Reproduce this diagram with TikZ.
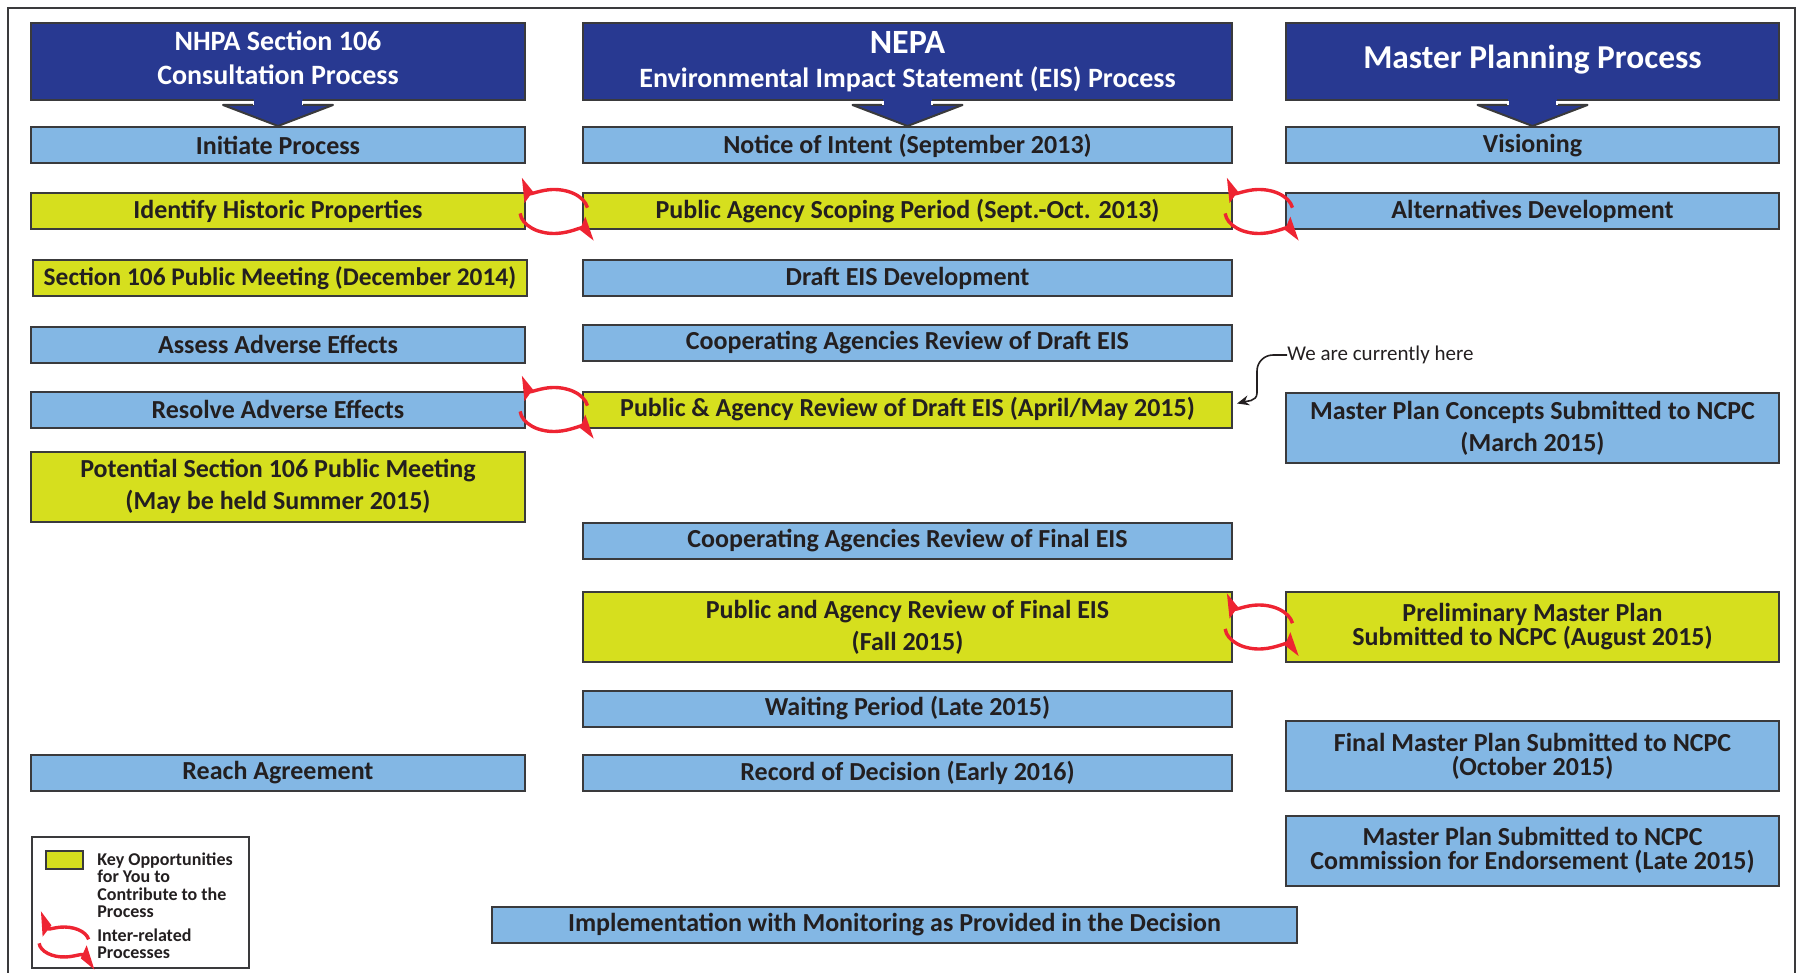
\documentclass[tikz,border=0pt]{standalone}
\usepackage{fontspec}
\setmainfont{Carlito}
\usetikzlibrary{arrows.meta,calc}

\definecolor{hdrblue}{RGB}{40,57,145}
\definecolor{stepblue}{RGB}{131,183,228}
\definecolor{keyyellow}{RGB}{214,223,30}
\definecolor{loopred}{RGB}{238,36,50}
\definecolor{edgegray}{RGB}{58,58,60}
\definecolor{inkgray}{RGB}{35,31,32}

\tikzset{
  box/.style={draw=edgegray, line width=1pt, text=inkgray, align=center, inner sep=0pt,
    minimum height=18pt, font=\bfseries\fontsize{13}{16}\selectfont},
  blue box/.style={box, fill=stepblue},
  key box/.style={box, fill=keyyellow},
  hdr/.style={draw=edgegray, line width=1pt, fill=hdrblue, text=white, align=center,
    inner sep=0pt, minimum height=38.5pt, font=\bfseries\fontsize{14}{17}\selectfont},
  lft/.style={minimum width=247pt},
  mid/.style={minimum width=324.5pt},
  rgt/.style={minimum width=246.5pt},
  tall/.style={minimum height=35pt},
  tight/.style={font=\bfseries\fontsize{13}{12}\selectfont},
  loopline/.style={loopred, line width=1.7pt, -{Stealth[harpoon,swap,length=8.5pt,width=15pt,inset=2pt]}},
}

% block arrow under a column heading
\newcommand\hdrarrow[1]{%
  \fill[hdrblue] ($(#1.south)+(-24.5,-4)$) -- ++(0,8) -- ++(-30.5,0) -- ++(55,21)
    -- ++(55,-21) -- ++(-30.5,0) -- ++(0,-8) -- cycle;
  \draw[edgegray, line width=1pt, line join=round] ($(#1.south)+(-24.5,4)$) -- ++(-30.5,0)
    -- ++(55,21) -- ++(55,-21) -- ++(-30.5,0);
  \draw[white, line width=0.8pt] ($(#1.south)+(-24.5,0.5)$) -- ++(0,3.5)
    ($(#1.south)+(24.5,0.5)$) -- ++(0,3.5);
}

% pair of circling arrows: centre, x radius, y radius
\newcommand\loopsym[3]{%
  \draw[loopline] #1 ++(10:#2 and #3) arc[start angle=10, end angle=155, x radius=#2, y radius=#3];
  \draw[loopline] #1 ++(185:#2 and #3) arc[start angle=185, end angle=345, x radius=#2, y radius=#3];
}

\begin{document}
\begin{tikzpicture}[x=0.5pt, y=-0.5pt]
	\useasboundingbox (0,0) rectangle (1797,973);
	\draw[edgegray, line width=1pt] (8,990) |- (1795,8) -- (1795,990);

	% headings
	\node[hdr, lft, text depth=3.5pt] (nhpa) at (278,61.5) {NHPA Section 106\\Consultation Process};
	\node[hdr, mid] (nepa) at (907.5,61.5) {{\fontsize{17}{17}\selectfont NEPA}\\Environmental Impact Statement (EIS) Process};
	\node[hdr, rgt, font=\bfseries\fontsize{16.7}{20}\selectfont] (master) at (1532.5,61.5) {\raisebox{4.5pt}{Master Planning Process}};

	% NHPA column
	\node[blue box, lft] (initiate) at (278,145.5) {Initiate Process};
	\node[key box, lft] (idhist) at (278,211.5) {Identify Historic Properties};
	\node[key box, lft, font=\bfseries\fontsize{12.7}{16}\selectfont] (meeting) at (280,278) {Section 106 Public Meeting (December 2014)};
	\node[blue box, lft] (assess) at (278,344.5) {Assess Adverse Effects};
	\node[blue box, lft] (resolve) at (278,409.5) {Resolve Adverse Effects};
	\node[key box, lft, tall] (potential) at (278,486.5) {Potential Section 106 Public Meeting\\(May be held Summer 2015)};
	\node[blue box, lft] (agree) at (278,773) {Reach Agreement};

	% NEPA column
	\node[blue box, mid] (intent) at (907.5,145.5) {Notice of Intent (September 2013)};
	\node[key box, mid] (scoping) at (907.5,211.5) {Public Agency Scoping Period (Sept.-Oct. 2013)};
	\node[blue box, mid] (drafteis) at (907.5,278) {Draft EIS Development};
	\node[blue box, mid] (coopdraft) at (907.5,342.5) {Cooperating Agencies Review of Draft EIS};
	\node[key box, mid] (draftrev) at (907.5,409.5) {Public \& Agency Review of Draft EIS (April/May 2015)};
	\node[blue box, mid] (coopfinal) at (907.5,541) {Cooperating Agencies Review of Final EIS};
	\node[key box, mid, tall] (finalrev) at (907.5,627) {Public and Agency Review of Final EIS\\(Fall 2015)};
	\node[blue box, mid] (waiting) at (907.5,708.5) {Waiting Period (Late 2015)};
	\node[blue box, mid] (decision) at (907.5,772.5) {Record of Decision (Early 2016)};

	% master plan column
	\node[blue box, rgt] (vision) at (1532.5,145.5) {Visioning};
	\node[blue box, rgt] (alts) at (1532.5,211.5) {Alternatives Development};
	\node[blue box, rgt, tall] (concepts) at (1532.5,428) {Master Plan Concepts Submitted to NCPC\\(March 2015)};
	\node[key box, rgt, tall, tight] (prelim) at (1532.5,627) {Preliminary Master Plan\\Submitted to NCPC (August 2015)};
	\node[blue box, rgt, tall, tight] (finalplan) at (1532.5,756) {Final Master Plan Submitted to NCPC\\(October 2015)};
	\node[blue box, rgt, tall, tight] (endorse) at (1532.5,850.5) {Master Plan Submitted to NCPC\\Commission for Endorsement (Late 2015)};

	\node[blue box, minimum width=402.5pt] (impl) at (894.5,924.5) {Implementation with Monitoring as Provided in the Decision};

	\hdrarrow{nhpa}
	\hdrarrow{nepa}
	\hdrarrow{master}

	% links between the processes
	\loopsym{($(idhist.east)!0.5!(scoping.west)$)}{17pt}{11pt}
	\loopsym{($(scoping.east)!0.5!(alts.west)$)}{17pt}{11pt}
	\loopsym{($(resolve.east)!0.5!(draftrev.west)$)}{17pt}{11pt}
	\loopsym{($(finalrev.east)!0.5!(prelim.west)$)}{17pt}{11pt}

	% current status
	\node[anchor=west, inner sep=0pt, text=inkgray, font=\fontsize{10.5}{12}\selectfont] (here) at (1287,355) {We are currently here};
	\draw[inkgray, line width=0.8pt, -{Stealth[length=6pt,width=5pt]}] (here.west) -- ++(-14,0)
		to[out=180,in=90] ++(-16,16) -- ++(0,22) to[out=-90,in=15] ([xshift=2pt,yshift=3pt]draftrev.east);

	% legend
	\draw[edgegray, line width=1pt] (32,837) rectangle (249,968);
	\node[draw=edgegray, line width=1pt, fill=keyyellow, minimum width=18.5pt, minimum height=9pt, inner sep=0pt] (swatch) at (64.5,860) {};
	\node[anchor=north west, align=left, inner sep=0pt, text=inkgray, font=\bfseries\fontsize{9}{8.75}\selectfont] (keytext) at (97,852) {Key Opportunities\\for You to\\Contribute to the\\Process};
	\loopsym{(64,942)}{12.5pt}{7.5pt}
	\node[anchor=north west, align=left, inner sep=0pt, text=inkgray, font=\bfseries\fontsize{9}{8.75}\selectfont] (looptext) at (97,928) {Inter-related\\Processes};
\end{tikzpicture}
\end{document}
